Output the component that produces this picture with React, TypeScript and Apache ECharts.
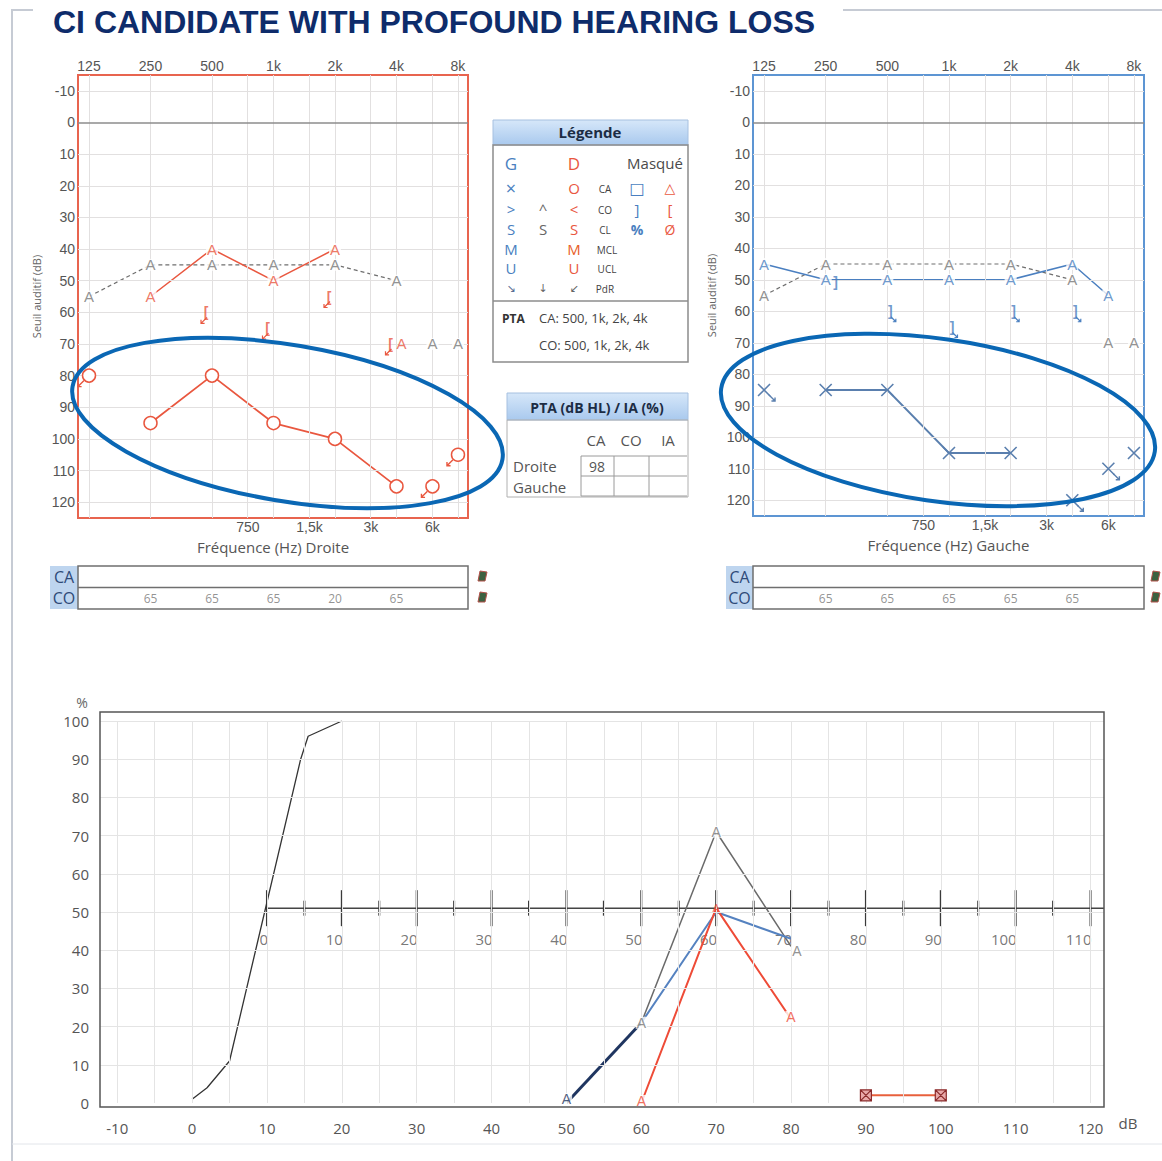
import React, { useEffect, useRef } from "react";
import * as echarts from "echarts";

// ---------------- audiogram axes ----------------
const TOP_FREQS = [125, 250, 500, 1000, 2000, 4000, 8000];
const TOP_FREQ_LABELS = ["125", "250", "500", "1k", "2k", "4k", "8k"];
const MID_FREQS = [750, 1500, 3000, 6000];
const MID_FREQ_LABELS = ["750", "1,5k", "3k", "6k"];
const GRID_FREQS = [125, 250, 500, 750, 1000, 1500, 2000, 3000, 4000, 6000, 8000];
const DB_TICKS = [-10, 0, 10, 20, 30, 40, 50, 60, 70, 80, 90, 100, 110, 120];

// ---------------- right ear (Droite, red) ----------------
const R_AC_FREQ = [250, 500, 1000, 2000, 4000];
const R_AC_DB = [95, 80, 95, 100, 115];
const R_AC_NR_FREQ = [125, 6000, 8000];
const R_AC_NR_DB = [80, 115, 105];
const R_AIDED_FREQ = [250, 500, 1000, 2000];
const R_AIDED_DB = [55, 40, 50, 40];
const R_AIDED_SINGLE_FREQ = [4000];
const R_AIDED_SINGLE_DB = [70];
const R_BC_FREQ = [500, 1000, 2000, 4000];
const R_BC_DB = [60, 65, 55, 70];

// ---------------- left ear (Gauche, blue) ----------------
const L_AC_FREQ = [250, 500, 1000, 2000];
const L_AC_DB = [85, 85, 105, 105];
const L_AC_NR_FREQ = [125, 4000, 6000];
const L_AC_NR_DB = [85, 120, 110];
const L_AC_SINGLE_FREQ = [8000];
const L_AC_SINGLE_DB = [105];
const L_AIDED_FREQ = [125, 250, 500, 1000, 2000, 4000, 6000];
const L_AIDED_DB = [45, 50, 50, 50, 50, 45, 55];
const L_BC_FREQ = [250, 500, 1000, 2000, 4000];
const L_BC_DB = [50, 60, 65, 60, 60];

// ---------------- binaural aided (gray, both charts) ----------------
const B_AIDED_FREQ = [125, 250, 500, 1000, 2000, 4000];
const B_AIDED_DB = [55, 45, 45, 45, 45, 50];
const B_AIDED_NR_FREQ = [6000, 8000];
const B_AIDED_NR_DB = [70, 70];

// ---------------- CA / CO rows ----------------
const CO_FREQ = [250, 500, 1000, 2000, 4000];
const R_CO_VALUES = [65, 65, 65, 20, 65];
const L_CO_VALUES = [65, 65, 65, 65, 65];

// ---------------- speech audiometry ----------------
const SPEECH_X_LABELS = [-10, 0, 10, 20, 30, 40, 50, 60, 70, 80, 90, 100, 110, 120];
const SPEECH_X_GRID = [-10, -5, 0, 5, 10, 15, 20, 25, 30, 35, 40, 45, 50, 55, 60, 65, 70, 75, 80, 85, 90, 95, 100, 105, 110, 115, 120];
const SPEECH_Y_LABELS = [0, 10, 20, 30, 40, 50, 60, 70, 80, 90, 100];
const INNER_MAJOR = [0, 10, 20, 30, 40, 50, 60, 70, 80, 90, 100, 110];
const INNER_MINOR = [5, 15, 25, 35, 45, 55, 65, 75, 85, 95, 105];
const INNER_AXIS_LEVEL = 51;

const NORMAL_DB = [0, 2, 5, 14.5, 15.5, 20];
const NORMAL_PCT = [1, 4, 11, 90, 96, 100];
const GRAY_SP_DB = [60, 70, 80];
const GRAY_SP_PCT = [21, 71, 41];
const BLUE_SP_DB = [60, 70, 80];
const BLUE_SP_PCT = [21, 50, 43];
const NAVY_SP_DB = [50, 60];
const NAVY_SP_PCT = [0, 21];
const RED_SP_DB = [60, 70, 80];
const RED_SP_PCT = [0, 51, 22];
const MASK_SP_DB = [90, 100];
const MASK_SP_PCT = [2, 2];

// ---------------- style constants ----------------
const RED = "#e9573f";
const BLUE = "#4a7fc0";
const XBLUE = "#5a7fae";
const GRAY = "#6f6f6f";
const NAVY = "#1f3560";
const NUM_FONT = "'Liberation Sans', Arial, sans-serif";
const UI_FONT = "'Open Sans', 'Noto Sans', sans-serif";
const ARROW_FONT = "'DejaVu Sans', sans-serif";

const AUD_X_MIN = -0.179;
const AUD_X_MAX = 6.163;
const AUD_Y_MIN = -15;
const AUD_Y_MAX = 125;
const SP_X_MIN = -12.3;
const SP_X_MAX = 121.8;
const INNER_SHIFT = 10;

const lg = (f: number) => Math.log2(f / 125);
const pts = (fs: number[], ds: number[]) => fs.map((f, i) => [lg(f), ds[i]]);
const zip = (xs: number[], ys: number[]) => xs.map((x, i) => [x, ys[i]]);

const labelFor = (values: number[], labels: string[]) => (v: number) => {
  const i = values.findIndex((x) => Math.abs(x - v) < 1e-6);
  return i >= 0 ? labels[i] : "";
};

function audX(grid: number, position: string, freqs: number[], labels: string[], name?: string) {
  const vals = freqs.map(lg);
  return {
    type: "value",
    gridIndex: grid,
    position,
    min: AUD_X_MIN,
    max: AUD_X_MAX,
    axisLine: { show: false },
    axisTick: { show: false },
    splitLine: { show: false },
    axisLabel: {
      customValues: vals,
      formatter: labelFor(vals, labels),
      color: "#555",
      fontSize: 14,
      fontFamily: NUM_FONT,
      margin: 2,
    },
    name: name || "",
    nameLocation: "middle",
    nameGap: 21,
    nameTextStyle: { color: "#555", fontSize: 15, fontFamily: UI_FONT, verticalAlign: "top" },
  };
}

function audY(grid: number) {
  return {
    type: "value",
    gridIndex: grid,
    inverse: true,
    min: AUD_Y_MIN,
    max: AUD_Y_MAX,
    axisLine: { show: false },
    axisTick: { show: false },
    splitLine: { show: false },
    axisLabel: { customValues: DB_TICKS, color: "#555", fontSize: 14, fontFamily: NUM_FONT, margin: 3 },
    name: "Seuil auditif (dB)",
    nameLocation: "middle",
    nameRotate: 90,
    nameGap: 36,
    nameTextStyle: { color: "#666", fontSize: 11, fontFamily: UI_FONT },
  };
}

function gridLines(xi: number, yi: number) {
  return {
    type: "line",
    xAxisIndex: xi,
    yAxisIndex: yi,
    data: [],
    silent: true,
    z: 1,
    markLine: {
      silent: true,
      symbol: ["none", "none"],
      label: { show: false },
      lineStyle: { color: "#e2e0e0", width: 1, type: "solid" },
      data: [
        ...GRID_FREQS.map((f) => ({ xAxis: lg(f) })),
        ...DB_TICKS.filter((v) => v !== 0).map((v) => ({ yAxis: v })),
        { yAxis: 0, lineStyle: { color: "#8d8d8d", width: 1.5, type: "solid" } },
      ],
    },
  };
}

function lineS(xi: number, yi: number, data: number[][], color: string, width: number, type: any = "solid", z = 4) {
  return {
    type: "line",
    xAxisIndex: xi,
    yAxisIndex: yi,
    data,
    symbol: "none",
    showSymbol: false,
    silent: true,
    z,
    lineStyle: { color, width, type },
  };
}

function letters(xi: number, yi: number, data: number[][], text: string, color: string, o: any = {}) {
  return {
    type: "scatter",
    xAxisIndex: xi,
    yAxisIndex: yi,
    data,
    symbol: "circle",
    symbolSize: 1,
    itemStyle: { color: "rgba(0,0,0,0)" },
    silent: true,
    z: o.z ?? 6,
    label: {
      show: true,
      position: "inside",
      formatter: text,
      color,
      fontSize: o.size ?? 15,
      lineHeight: o.lh ?? 12,
      fontFamily: o.family ?? NUM_FONT,
      fontWeight: o.weight ?? "normal",
      offset: o.offset ?? [0, 0],
      backgroundColor: o.bg ?? "transparent",
      padding: o.bg ? [0, 1] : 0,
    },
  };
}

function marks(xi: number, yi: number, data: number[][], symbol: string, size: number, color: string, fill = "#fff", bw = 1.5, offset: number[] = [0, 0], z = 6) {
  return {
    type: "scatter",
    xAxisIndex: xi,
    yAxisIndex: yi,
    data,
    symbol,
    symbolSize: size,
    symbolOffset: offset,
    silent: true,
    z,
    itemStyle: { color: fill, borderColor: color, borderWidth: bw, opacity: 1 },
  };
}

const X_PATH = "path://M0,0L10,10M10,0L0,10";
const MASK_PATH = "path://M0,0L10,0L10,10L0,10ZM0,0L10,10M10,0L0,10";
const ARROW_DL = "path://M10,0L0,10M0,4L0,10L6,10";
const ARROW_DR = "path://M0,0L10,10M10,4L10,10L4,10";
const NONE = "rgba(0,0,0,0)";

function txt(x: number, y: number, text: string, o: any = {}) {
  const style: any = {
    text,
    fill: o.color ?? "#444",
    fontSize: o.size ?? 13,
    fontFamily: o.family ?? UI_FONT,
    fontWeight: o.weight ?? "normal",
    align: o.align ?? "center",
    verticalAlign: "middle",
  };
  if (o.lh) style.lineHeight = o.lh;
  return { type: "text", x, y, z: 50, silent: true, style };
}
function rect(x: number, y: number, w: number, h: number, style: any, z = 40) {
  return { type: "rect", z, silent: true, shape: { x, y, width: w, height: h }, style };
}
function seg(x1: number, y1: number, x2: number, y2: number, stroke: string, lw = 1, z = 45) {
  return { type: "line", z, silent: true, shape: { x1, y1, x2, y2 }, style: { stroke, lineWidth: lw } };
}

function buildGraphics() {
  const g: any[] = [];
  // page frame
  g.push({ type: "polyline", z: 30, silent: true, shape: { points: [[33, 10], [12, 10], [12, 1161]] }, style: { stroke: "#c6cbd4", lineWidth: 2, fill: "none" } });
  g.push(seg(843, 10, 1162, 10, "#c6cbd4", 2, 30));
  g.push(seg(12, 1144, 1162, 1144, "#e2e5ea", 1, 30));
  // title
  g.push(txt(53, 22, "CI CANDIDATE WITH PROFOUND HEARING LOSS", { color: "#0e2c6b", size: 32, weight: "bold", family: NUM_FONT, align: "left" }));

  // ---- Légende ----
  const hdrFill = { type: "linear", x: 0, y: 0, x2: 0, y2: 1, colorStops: [{ offset: 0, color: "#d6e7f9" }, { offset: 1, color: "#a9c9ee" }] };
  g.push(rect(493, 120, 195, 25, { fill: hdrFill, stroke: "#a6c0e0", lineWidth: 1 }));
  g.push(txt(590, 132, "Légende", { weight: "bold", size: 15, color: "#1c2c44" }));
  g.push(rect(493, 145, 195, 217, { fill: "none", stroke: "#8c8c8c", lineWidth: 1.5 }));
  g.push(seg(493, 301, 688, 301, "#8c8c8c", 1.5));
  const cB = 511, cM = 543, cR = 574, cT = 605, cMB = 637, cMR = 670;
  const G = (x: number, y: number, s: string, color: string, size = 15, extra: any = {}) =>
    g.push(txt(x, y, s, { color, size, lh: 15, ...extra }));
  G(cB, 163, "G", BLUE, 17, { lh: 17 });
  G(cR, 163, "D", RED, 17, { lh: 17 });
  g.push(txt(655, 163, "Masqué", { color: "#4a4a4a", size: 15 }));
  G(cB, 188, "×", BLUE, 18);
  G(cR, 188, "O", RED, 15);
  G(cT, 189, "CA", "#444", 10, { lh: 11 });
  G(cMB, 188, "□", BLUE, 16, { family: ARROW_FONT });
  G(cMR, 188, "△", RED, 14, { family: ARROW_FONT });
  G(cB, 209, ">", BLUE, 15);
  G(cM, 209, "^", "#666", 15);
  G(cR, 209, "<", RED, 15);
  G(cT, 210, "CO", "#444", 10, { lh: 11 });
  G(cMB, 209, "]", BLUE, 15);
  G(cMR, 209, "[", RED, 15);
  G(cB, 229, "S", BLUE, 15);
  G(cM, 229, "S", "#666", 15);
  G(cR, 229, "S", RED, 15);
  G(cT, 230, "CL", "#444", 10, { lh: 11 });
  G(cMB, 229, "%", BLUE, 14, { weight: "bold" });
  G(cMR, 229, "Ø", RED, 14);
  G(cB, 249, "M", BLUE, 15);
  G(cR, 249, "M", "#e8602a", 15);
  G(cT + 2, 250, "MCL", "#444", 10, { lh: 11 });
  G(cB, 268, "U", BLUE, 15);
  G(cR, 268, "U", RED, 15);
  G(cT + 2, 269, "UCL", "#444", 10, { lh: 11 });
  G(cB, 288, "↘", "#5a6f94", 11, { family: ARROW_FONT, lh: 12 });
  G(cM, 288, "↓", "#666", 11, { family: ARROW_FONT, lh: 12 });
  G(cR, 288, "↙", "#666", 11, { family: ARROW_FONT, lh: 12 });
  G(cT, 289, "PdR", "#444", 10, { lh: 11 });
  g.push(txt(502, 318, "PTA", { color: "#333", size: 12, weight: "bold", align: "left" }));
  g.push(txt(539, 318, "CA: 500, 1k, 2k, 4k", { color: "#444", size: 13, align: "left" }));
  g.push(txt(539, 345, "CO: 500, 1k, 2k, 4k", { color: "#444", size: 13, align: "left" }));

  // ---- PTA table ----
  g.push(rect(507, 393, 181, 27, { fill: hdrFill, stroke: "#a6c0e0", lineWidth: 1 }));
  g.push(txt(597, 407, "PTA (dB HL) / IA (%)", { weight: "bold", size: 14, color: "#1c2c44" }));
  g.push(rect(507, 420, 181, 77, { fill: "none", stroke: "#b0b0b0", lineWidth: 1 }));
  g.push(txt(596, 440, "CA", { size: 15, color: "#555" }));
  g.push(txt(631, 440, "CO", { size: 15, color: "#555" }));
  g.push(txt(668, 440, "IA", { size: 15, color: "#555" }));
  g.push(txt(513, 466, "Droite", { size: 15, color: "#555", align: "left" }));
  g.push(txt(513, 487, "Gauche", { size: 15, color: "#555", align: "left" }));
  [456, 476, 496].forEach((y) => g.push(seg(581, y, 687, y, "#9a9a9a", 1)));
  [581, 614, 649].forEach((x) => g.push(seg(x, 456, x, 496, "#9a9a9a", 1)));
  g.push(txt(597, 466, "98", { size: 14, color: "#555" }));

  // ---- CA / CO rows ----
  const rows = (lx: number, bx: number, bw: number, ix: number) => {
    g.push(rect(lx, 566, bx - lx, 43, { fill: "#bed5ef" }));
    g.push(txt((lx + bx) / 2, 577, "CA", { size: 16, color: "#2e4a78" }));
    g.push(txt((lx + bx) / 2, 598, "CO", { size: 16, color: "#2e4a78" }));
    g.push(rect(bx, 566, bw, 43, { fill: "none", stroke: "#6f6f6f", lineWidth: 1.5 }));
    g.push(seg(bx, 587.5, bx + bw, 587.5, "#6f6f6f", 1.5));
    [571, 592].forEach((y) => {
      g.push({ type: "polygon", z: 45, silent: true, shape: { points: [[ix, y + 10], [ix + 2, y], [ix + 9, y + 1], [ix + 7, y + 10]] }, style: { fill: "#3c6140", stroke: "#b2524a", lineWidth: 1 } });
    });
  };
  rows(50, 78, 390, 478);
  rows(726, 753, 391, 1151);

  // ---- speech chart frame ----
  g.push(rect(100, 712, 1004, 395, { fill: "none", stroke: "#555", lineWidth: 1.5 }, 20));
  g.push(txt(82, 702, "%", { size: 14, color: "#666" }));
  g.push(txt(1128, 1123, "dB", { size: 15, color: "#555" }));

  // ---- hand-drawn ellipses ----
  g.push({ type: "ellipse", z: 100, silent: true, x: 287.5, y: 423, rotation: -0.168, shape: { cx: 0, cy: 0, rx: 218, ry: 78 }, style: { fill: "none", stroke: "#0a67b4", lineWidth: 4 } });
  g.push({ type: "ellipse", z: 100, silent: true, x: 938, y: 420, rotation: -0.145, shape: { cx: 0, cy: 0, rx: 219, ry: 81 }, style: { fill: "none", stroke: "#0a67b4", lineWidth: 4 } });
  return g;
}

function buildOption() {
  const spLabel = { color: "#555", fontSize: 15, fontFamily: UI_FONT };
  const series: any[] = [];

  // ---- left audiogram (right ear) : xAxis 0, yAxis 0 ----
  series.push(gridLines(0, 0));
  series.push(lineS(0, 0, pts(B_AIDED_FREQ, B_AIDED_DB), GRAY, 1.2, [4, 3]));
  series.push(lineS(0, 0, pts(R_AIDED_FREQ, R_AIDED_DB), RED, 1.5));
  series.push(lineS(0, 0, pts(R_AC_FREQ, R_AC_DB), RED, 1.8));
  series.push(letters(0, 0, pts(B_AIDED_FREQ, B_AIDED_DB), "A", "#777", { bg: "#fff" }));
  series.push(letters(0, 0, pts(B_AIDED_NR_FREQ, B_AIDED_NR_DB), "A", "#777", { bg: "#fff" }));
  series.push(letters(0, 0, pts(R_AIDED_FREQ, R_AIDED_DB), "A", RED, { bg: "#fff", z: 7 }));
  series.push(letters(0, 0, pts(R_AIDED_SINGLE_FREQ, R_AIDED_SINGLE_DB), "A", RED, { offset: [5, 0] }));
  series.push(letters(0, 0, pts(R_BC_FREQ, R_BC_DB), "[", RED, { offset: [-6, 0], weight: "bold", size: 14 }));
  series.push(marks(0, 0, pts(R_BC_FREQ, R_BC_DB), ARROW_DL, 6, RED, NONE, 1.2, [-8, 8]));
  series.push(marks(0, 0, pts(R_AC_FREQ, R_AC_DB), "circle", 13, RED));
  series.push(marks(0, 0, pts(R_AC_NR_FREQ, R_AC_NR_DB), "circle", 13, RED));
  series.push(marks(0, 0, pts(R_AC_NR_FREQ, R_AC_NR_DB), ARROW_DL, 6, RED, NONE, 1.4, [-8, 8], 7));

  // ---- right audiogram (left ear) : xAxis 2, yAxis 1 ----
  series.push(gridLines(2, 1));
  series.push(lineS(2, 1, pts(B_AIDED_FREQ, B_AIDED_DB), GRAY, 1.2, [4, 3]));
  series.push(lineS(2, 1, pts(L_AIDED_FREQ, L_AIDED_DB), BLUE, 1.5));
  series.push(lineS(2, 1, pts(L_AC_FREQ, L_AC_DB), XBLUE, 1.8));
  series.push(letters(2, 1, pts(B_AIDED_FREQ, B_AIDED_DB), "A", "#777", { bg: "#fff" }));
  series.push(letters(2, 1, pts(B_AIDED_NR_FREQ, B_AIDED_NR_DB), "A", "#777", { bg: "#fff" }));
  series.push(letters(2, 1, pts(L_AIDED_FREQ, L_AIDED_DB), "A", BLUE, { bg: "#fff", z: 7 }));
  const lbc = pts(L_BC_FREQ, L_BC_DB);
  series.push(letters(2, 1, lbc.filter((_, i) => L_BC_FREQ[i] === 250), "]", BLUE, { offset: [10, 2], weight: "bold", size: 14, z: 8 }));
  series.push(letters(2, 1, lbc.filter((_, i) => L_BC_FREQ[i] !== 250), "]", BLUE, { offset: [3, 0], weight: "bold", size: 14, z: 8 }));
  series.push(marks(2, 1, lbc.filter((_, i) => L_BC_FREQ[i] !== 250), ARROW_DR, 5, BLUE, NONE, 1.2, [6, 8], 8));
  series.push(marks(2, 1, pts(L_AC_FREQ, L_AC_DB), X_PATH, 12, XBLUE, NONE, 1.6));
  series.push(marks(2, 1, pts(L_AC_NR_FREQ, L_AC_NR_DB), X_PATH, 12, XBLUE, NONE, 1.6));
  series.push(marks(2, 1, pts(L_AC_SINGLE_FREQ, L_AC_SINGLE_DB), X_PATH, 12, XBLUE, NONE, 1.6));
  series.push(marks(2, 1, pts(L_AC_NR_FREQ, L_AC_NR_DB), ARROW_DR, 6, XBLUE, NONE, 1.4, [8, 8]));

  // ---- CO rows ----
  series.push({
    type: "scatter", xAxisIndex: 6, yAxisIndex: 3, silent: true, symbolSize: 1, itemStyle: { color: NONE },
    data: CO_FREQ.map((f, i) => [lg(f), 0.5, R_CO_VALUES[i]]),
    label: { show: true, position: "inside", formatter: (p: any) => String(p.value[2]), color: "#777", fontSize: 12, fontFamily: UI_FONT },
  });
  series.push({
    type: "scatter", xAxisIndex: 7, yAxisIndex: 4, silent: true, symbolSize: 1, itemStyle: { color: NONE },
    data: CO_FREQ.map((f, i) => [lg(f), 0.5, L_CO_VALUES[i]]),
    label: { show: true, position: "inside", formatter: (p: any) => String(p.value[2]), color: "#777", fontSize: 12, fontFamily: UI_FONT },
  });

  // ---- speech chart : xAxis 4 (outer), xAxis 5 (inner), yAxis 2 ----
  series.push({
    type: "line", xAxisIndex: 4, yAxisIndex: 2, data: [], silent: true, z: 1,
    markLine: {
      silent: true, symbol: ["none", "none"], label: { show: false },
      lineStyle: { color: "#e4e4e4", width: 1, type: "solid" },
      data: [...SPEECH_X_GRID.map((v) => ({ xAxis: v })), ...SPEECH_Y_LABELS.filter((v) => v > 0).map((v) => ({ yAxis: v }))],
    },
  });
  // inner axis line + ticks + labels
  series.push(lineS(5, 2, [[0, INNER_AXIS_LEVEL], [SP_X_MAX - INNER_SHIFT, INNER_AXIS_LEVEL]], "#444", 1.5, "solid", 3));
  series.push({ type: "scatter", xAxisIndex: 5, yAxisIndex: 2, silent: true, z: 3, symbol: "rect", symbolSize: [2, 36], itemStyle: { color: "#3a3a3a", opacity: 1 }, data: INNER_MAJOR.map((v) => [v, INNER_AXIS_LEVEL]) });
  series.push({ type: "scatter", xAxisIndex: 5, yAxisIndex: 2, silent: true, z: 3, symbol: "rect", symbolSize: [2, 15], itemStyle: { color: "#3a3a3a", opacity: 1 }, data: INNER_MINOR.map((v) => [v, INNER_AXIS_LEVEL]) });
  series.push({
    type: "scatter", xAxisIndex: 5, yAxisIndex: 2, silent: true, z: 3, symbolSize: 1, itemStyle: { color: NONE },
    data: INNER_MAJOR.map((v) => [v, INNER_AXIS_LEVEL]),
    label: { show: true, position: "inside", align: "right", offset: [1, 31], formatter: (p: any) => String(p.value[0]), ...spLabel },
  });
  // curves
  series.push(lineS(4, 2, zip(NORMAL_DB, NORMAL_PCT), "#333", 1.3));
  series.push(lineS(4, 2, zip(GRAY_SP_DB, GRAY_SP_PCT), "#6a6a6a", 1.5));
  series.push(lineS(4, 2, zip(BLUE_SP_DB, BLUE_SP_PCT), "#5582c0", 2));
  series.push(lineS(4, 2, zip(NAVY_SP_DB, NAVY_SP_PCT), NAVY, 3));
  series.push(lineS(4, 2, zip(RED_SP_DB, RED_SP_PCT), "#ee4b37", 2));
  series.push(lineS(4, 2, zip(MASK_SP_DB, MASK_SP_PCT), "#e8603c", 2));
  series.push(marks(4, 2, zip(MASK_SP_DB, MASK_SP_PCT), MASK_PATH, 11, "#8a2a2a", "#e9a9a9", 1.2));
  series.push(letters(4, 2, zip(NAVY_SP_DB, NAVY_SP_PCT).slice(0, 1), "A", NAVY, { bg: "#fff", offset: [0, -4], size: 14 }));
  series.push(letters(4, 2, zip(RED_SP_DB, RED_SP_PCT).filter((_, i) => i !== 1), "A", "#ee4b37", { bg: "#fff", offset: [0, -2], size: 14 }));
  series.push(letters(4, 2, zip(RED_SP_DB, RED_SP_PCT).filter((_, i) => i === 1), "A", "#ee4b37", { size: 11, lh: 10 }));
  const gsp = zip(GRAY_SP_DB, GRAY_SP_PCT);
  series.push(letters(4, 2, gsp.slice(0, 2), "A", "#777", { bg: "#fff", size: 14 }));
  series.push(letters(4, 2, gsp.slice(2), "A", "#777", { bg: "#fff", size: 14, offset: [6, 5] }));

  return {
    animation: false,
    backgroundColor: "#fff",
    textStyle: { fontFamily: UI_FONT },
    grid: [
      { left: 78, top: 75, width: 390, height: 443, show: true, borderColor: "#e8644f", borderWidth: 2, backgroundColor: "transparent" },
      { left: 753, top: 75, width: 391, height: 441, show: true, borderColor: "#5d95d3", borderWidth: 2, backgroundColor: "transparent" },
      { left: 100, top: 721, width: 1004, height: 382 },
      { left: 78, top: 588, width: 390, height: 21 },
      { left: 753, top: 588, width: 391, height: 21 },
    ],
    xAxis: [
      audX(0, "top", TOP_FREQS, TOP_FREQ_LABELS),
      audX(0, "bottom", MID_FREQS, MID_FREQ_LABELS, "Fréquence (Hz) Droite"),
      audX(1, "top", TOP_FREQS, TOP_FREQ_LABELS),
      audX(1, "bottom", MID_FREQS, MID_FREQ_LABELS, "Fréquence (Hz) Gauche"),
      {
        type: "value", gridIndex: 2, position: "bottom", min: SP_X_MIN, max: SP_X_MAX,
        axisLine: { show: false }, axisTick: { show: false }, splitLine: { show: false },
        axisLabel: { customValues: SPEECH_X_LABELS, margin: 17, ...spLabel },
      },
      { type: "value", gridIndex: 2, min: SP_X_MIN - INNER_SHIFT, max: SP_X_MAX - INNER_SHIFT, show: false },
      { type: "value", gridIndex: 3, min: AUD_X_MIN, max: AUD_X_MAX, show: false },
      { type: "value", gridIndex: 4, min: AUD_X_MIN, max: AUD_X_MAX, show: false },
    ],
    yAxis: [
      audY(0),
      audY(1),
      {
        type: "value", gridIndex: 2, min: 0, max: 100, interval: 10,
        axisLine: { show: false }, axisTick: { show: false }, splitLine: { show: false },
        axisLabel: { margin: 11, ...spLabel },
      },
      { type: "value", gridIndex: 3, min: 0, max: 1, show: false },
      { type: "value", gridIndex: 4, min: 0, max: 1, show: false },
    ],
    series,
    graphic: { elements: buildGraphics() },
  };
}

export default function App() {
  const ref = useRef<HTMLDivElement>(null);
  useEffect(() => {
    if (!ref.current) return;
    const chart = echarts.init(ref.current, null, { renderer: "svg" });
    chart.setOption(buildOption() as any);
    return () => chart.dispose();
  }, []);
  return (
    <div
      ref={ref}
      style={{ position: "absolute", left: 0, top: 0, width: 1162, height: 1161, background: "#fff" }}
    />
  );
}
